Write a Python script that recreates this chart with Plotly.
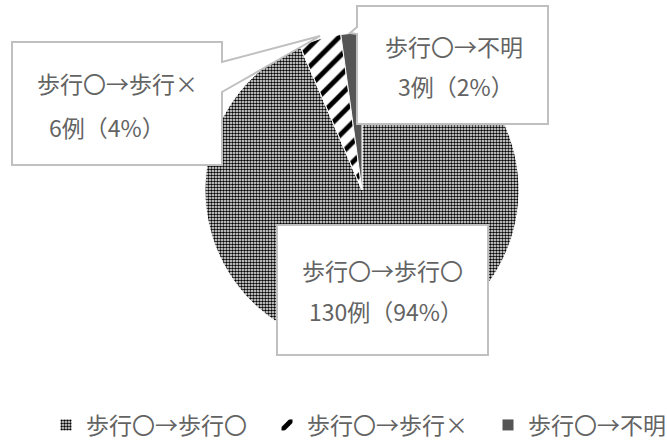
import plotly.graph_objects as go

# Walking status outcome (cases)
categories = ["歩行〇→歩行〇", "歩行〇→歩行×", "歩行〇→不明"]
counts = [130, 6, 3]

W, H = 667, 440
FONT = "Noto Sans CJK JP"
FONT_SIZE = 23
TEXT_COLOR = "#636363"
BOX_LINE = "#c0c0c0"


def fx(x):
    return x / W


def fy(y):
    return 1 - y / H


total = sum(counts)
percents = [round(100 * v / total) for v in counts]

fig = go.Figure(
    go.Pie(
        labels=categories,
        values=counts,
        sort=False,
        direction="clockwise",
        rotation=0,
        textinfo="none",
        hoverinfo="label+value+percent",
        marker=dict(
            colors=["white", "white", "#555555"],
            line=dict(color="white", width=1),
            pattern=dict(
                shape=[".", "/", ""],
                fgcolor=["black", "black", "#555555"],
                bgcolor=["white", "white", "#555555"],
                size=[3, 14, 8],
                solidity=[0.55, 0.35, 0.3],
            ),
        ),
        domain=dict(x=[fx(205), fx(519)], y=[fy(347), fy(33)]),
    )
)


def path(points):
    return "M " + " L ".join(f"{fx(x)},{fy(y)}" for x, y in points) + " Z"


callouts = [
    [(12, 42), (222, 42), (222, 62), (320, 36), (222, 92), (222, 165), (12, 165)],
    [(357, 6), (548, 6), (548, 124), (357, 124), (357, 34), (350, 33), (357, 27)],
    [(277, 225), (488, 225), (488, 355), (277, 355)],
]
shapes = [
    dict(type="path", path=path(pts), xref="paper", yref="paper",
         fillcolor="white", line=dict(color=BOX_LINE, width=2), layer="above")
    for pts in callouts
]

# label positions per slice: (x of line 1, y of line 1, x of line 2, y of line 2)
label_pos = [
    (300, 270, 307, 311),
    (35, 83, 47, 127),
    (383, 46, 396, 86),
]
annotations = []
for name, v, p, (x1, y1, x2, y2) in zip(categories, counts, percents, label_pos):
    annotations.append(dict(x=fx(x1), y=fy(y1), xref="paper", yref="paper",
                            text=name, showarrow=False, xanchor="left", yanchor="middle",
                            font=dict(family=FONT, size=FONT_SIZE, color=TEXT_COLOR)))
    annotations.append(dict(x=fx(x2), y=fy(y2), xref="paper", yref="paper",
                            text=f"{v}例（{p}%）", showarrow=False, xanchor="left",
                            yanchor="middle",
                            font=dict(family=FONT, size=FONT_SIZE, color=TEXT_COLOR)))

fig.update_layout(
    width=W,
    height=H,
    margin=dict(l=0, r=0, t=0, b=0, autoexpand=False),
    paper_bgcolor="white",
    plot_bgcolor="white",
    shapes=shapes,
    annotations=annotations,
    showlegend=True,
    legend=dict(
        orientation="h",
        x=fx(46),
        y=fy(425),
        xanchor="left",
        yanchor="middle",
        entrywidth=176,
        entrywidthmode="pixels",
        font=dict(family=FONT, size=FONT_SIZE, color=TEXT_COLOR),
        bgcolor="rgba(0,0,0,0)",
    ),
)

fig.write_html("out.html")
